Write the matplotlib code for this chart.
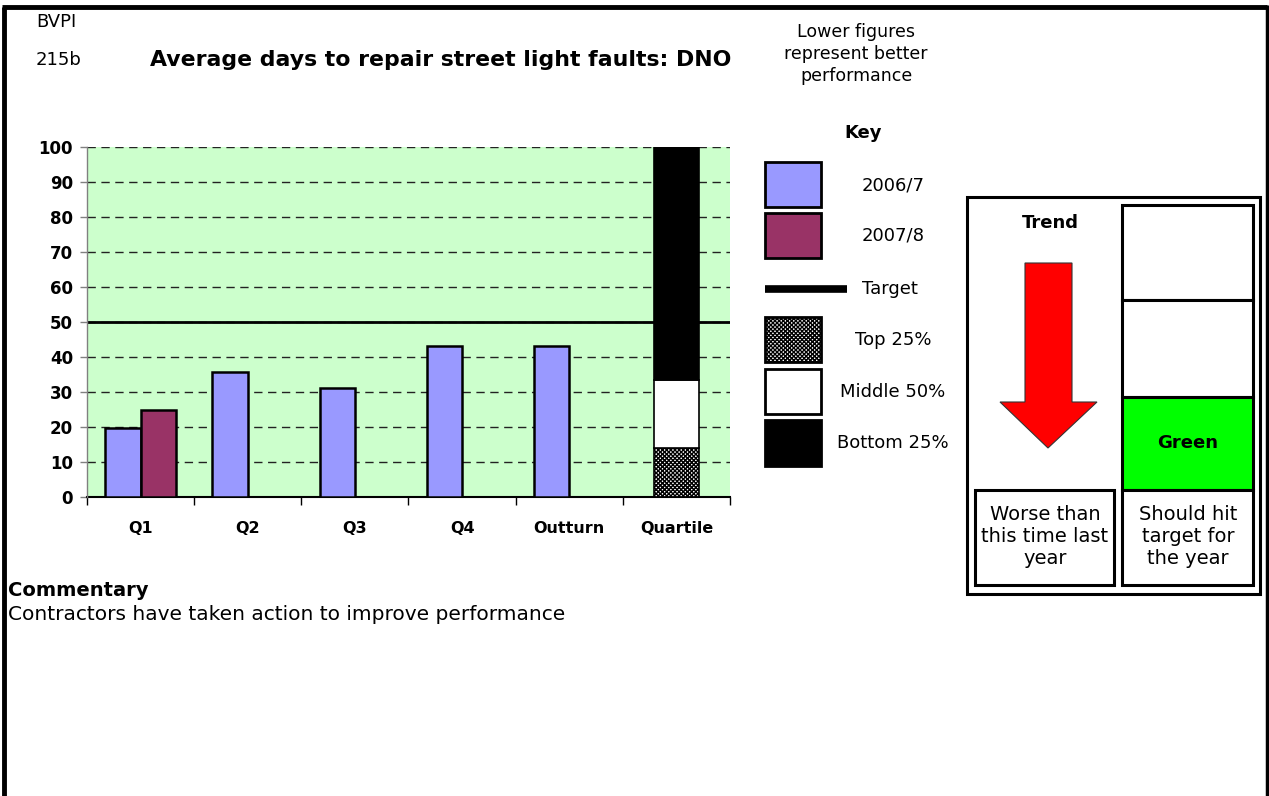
import matplotlib
matplotlib.use("Agg")
import matplotlib.pyplot as plt
from matplotlib.patches import Rectangle, Polygon

# --- data ---
categories = ["Q1", "Q2", "Q3", "Q4", "Outturn", "Quartile"]
days_2006 = [19.7, 35.7, 31.2, 43.2, 43.2]
days_2007 = [25.0]
target = 50
quartile_parts = [14.1, 19.4, 66.5]          # top 25%, middle 50%, bottom 25%
quartile_colors = ["white", "white", "black"]
quartile_hatch = ["xxxxxxxx", None, None]
yticks = list(range(0, 101, 10))

key_labels = ["2006/7", "2007/8", "Target", "Top 25%", "Middle 50%", "Bottom 25%"]
c2006 = "#9999FF"
c2007 = "#993366"

W, H = 1269, 796
plt.rcParams["font.family"] = ["DejaVu Sans"]
fig = plt.figure(figsize=(W / 100, H / 100), dpi=100)

# overlay in pixel coordinates for the page furniture
ov = fig.add_axes([0, 0, 1, 1])
ov.set_xlim(0, W)
ov.set_ylim(H, 0)
ov.axis("off")

# --- main chart ---
left, right, top, bottom = 87, 730, 147, 497
ax = fig.add_axes([left / W, 1 - bottom / H, (right - left) / W, (bottom - top) / H])
ax.set_facecolor("#CCFFCC")

bw = 0.33
x = list(range(len(categories)))
ax.bar([i - bw / 2 for i in x[:len(days_2006)]], days_2006, width=bw,
       color=c2006, edgecolor="black", linewidth=1.8, zorder=3)
ax.bar([i + bw / 2 for i in x[:len(days_2007)]], days_2007, width=bw,
       color=c2007, edgecolor="black", linewidth=1.8, zorder=3)

plt.rcParams["hatch.linewidth"] = 1.0
base = 0
for h, c, ht in zip(quartile_parts, quartile_colors, quartile_hatch):
    ax.bar(x[-1], h, bottom=base, width=0.42, color=c, edgecolor="black",
           linewidth=1.2, hatch=ht, zorder=3)
    base += h

ax.axhline(target, color="black", linewidth=2, zorder=2)

ax.set_xlim(-0.5, len(categories) - 0.5)
ax.set_ylim(0, 100)
ax.set_yticks(yticks)
ax.yaxis.grid(True, color="#222222", linestyle=(0, (6, 4)), linewidth=1)
ax.set_axisbelow(True)
for s in ["top", "right"]:
    ax.spines[s].set_visible(False)
ax.spines["left"].set_color("#808080")
ax.spines["left"].set_linewidth(1)
ax.spines["bottom"].set_linewidth(1.5)
ax.spines["left"].set_zorder(4)

ax.set_xticks(x)
ax.set_xticklabels(categories, fontsize=11.5, fontweight="bold")
ax.set_xticks([i - 0.5 for i in range(len(categories) + 1)], minor=True)
ax.tick_params(axis="x", which="major", length=0, pad=17)
ax.tick_params(axis="x", which="minor", length=6, width=1, color="black")
ax.tick_params(axis="y", length=5, width=1, color="#808080", pad=5)
for lab in ax.get_yticklabels():
    lab.set_fontsize(12)
    lab.set_fontweight("bold")

# --- page frame ---
ov.plot([4, 4], [7, H], color="black", linewidth=3.5, solid_capstyle="butt")
ov.plot([2, 1267], [7, 7], color="black", linewidth=3.5, solid_capstyle="butt")
ov.plot([1267, 1267], [5, H], color="black", linewidth=2.5, solid_capstyle="butt")

# --- header text ---
ov.text(36, 22, "BVPI", fontsize=13, va="center", ha="left")
ov.text(36, 60, "215b", fontsize=13, va="center", ha="left")
ov.text(150, 60, "Average days to repair street light faults: DNO", fontsize=15.8,
        fontweight="bold", va="center", ha="left")
ov.text(856, 54, "Lower figures\nrepresent better\nperformance", fontsize=12.5,
        ha="center", va="center", linespacing=1.3)

# --- key ---
ov.text(863, 133, "Key", fontsize=13, fontweight="bold", ha="center", va="center")
rows = [(162, 207), (213, 258), None, (317, 362), (369, 414), (420, 466)]
fills = [c2006, c2007, None, "white", "white", "black"]
hatches = [None, None, None, "xxxxxxxx", None, None]
label_y = [185, 236, 289, 340, 392, 443]
for lab, r, f, hh, ly in zip(key_labels, rows, fills, hatches, label_y):
    if r is None:
        ov.plot([765, 847], [ly, ly], color="black", linewidth=5.5, solid_capstyle="butt")
        ov.text(862, ly, lab, fontsize=13, ha="left", va="center")
        continue
    ov.add_patch(Rectangle((765, r[0]), 56, r[1] - r[0], facecolor=f,
                           edgecolor="black", linewidth=2, hatch=hh))
    ov.text(893, ly, lab, fontsize=13, ha="center", va="center")

# --- trend / status box ---
ov.add_patch(Rectangle((967, 197), 293, 397, facecolor="white", edgecolor="black", linewidth=2.2))
status_rows = [(205, 300, "white"), (300, 397, "white"), (397, 490, "#00FF00"), (490, 585, "white")]
for y0, y1, fc in status_rows:
    ov.add_patch(Rectangle((1122, y0), 131, y1 - y0, facecolor=fc, edgecolor="black", linewidth=2.2))
ov.add_patch(Rectangle((975, 490), 139, 95, facecolor="white", edgecolor="black", linewidth=2.2))
ov.text(1050, 223, "Trend", fontsize=13, fontweight="bold", ha="center", va="center")
ov.add_patch(Polygon([(1025, 263), (1072, 263), (1072, 402), (1097, 402), (1048, 448),
                      (1000, 402), (1025, 402)], closed=True, facecolor="#FF0000",
                     edgecolor="#333333", linewidth=0.8))
ov.text(1188, 443, "Green", fontsize=13, fontweight="bold", ha="center", va="center")
ov.text(1045, 537, "Worse than\nthis time last\nyear", fontsize=14, ha="center", va="center",
        linespacing=1.2)
ov.text(1188, 537, "Should hit\ntarget for\nthe year", fontsize=14, ha="center", va="center",
        linespacing=1.2)

# --- commentary ---
ov.text(8, 591, "Commentary", fontsize=14, fontweight="bold", ha="left", va="center")
ov.text(8, 614, "Contractors have taken action to improve performance", fontsize=14.5,
        ha="left", va="center")

fig.savefig("out.png", dpi=100)
